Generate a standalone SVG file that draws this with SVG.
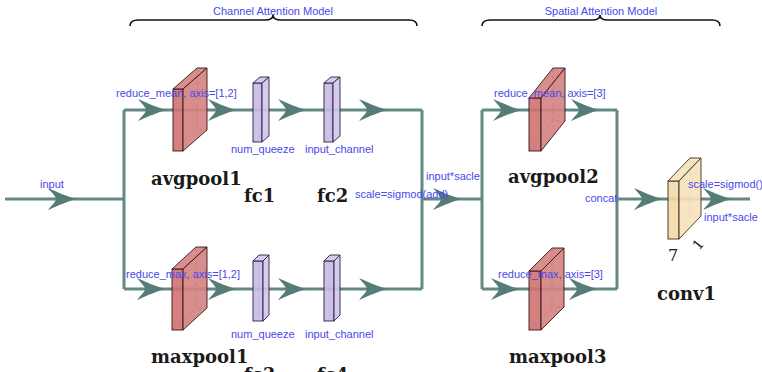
<svg xmlns="http://www.w3.org/2000/svg" xmlns:xlink="http://www.w3.org/1999/xlink" width="762" height="372" viewBox="0 0 762 372">
<style>
.ln{fill:none;stroke:#648985;stroke-width:3}
.ah{fill:#557c77}
.bt{font-family:"Liberation Sans",Arial,sans-serif;font-size:11px;fill:#4848ec}
.st{font-family:"DejaVu Serif","Liberation Serif",serif;font-weight:bold;font-size:18px;fill:#1a1a1a}
.br{fill:none;stroke:#111;stroke-width:1.6}
.pool .f{fill:#cd7272;fill-opacity:0.9;stroke:#3a1515;stroke-width:0.9}
.pool .s{fill:#d58282;fill-opacity:0.9;stroke:#3a1515;stroke-width:0.9}
.pool .d{stroke:#5a2020;stroke-width:0.8;stroke-dasharray:4 3;fill:none}
.fc .f{fill:#c9bbe6;fill-opacity:0.9;stroke:#2a2040;stroke-width:0.9}
.fc .s{fill:#d3c7ec;fill-opacity:0.9;stroke:#2a2040;stroke-width:0.9}
.fc .d{stroke:#4a4060;stroke-width:0.8;stroke-dasharray:4 3;fill:none}
.cv .f{fill:#f2d9a8;fill-opacity:0.9;stroke:#3a3020;stroke-width:0.9}
.cv .s{fill:#f6e2bb;fill-opacity:0.9;stroke:#3a3020;stroke-width:0.9}
.cv .d{stroke:#6a5a3a;stroke-width:0.8;stroke-dasharray:4 3;fill:none}
</style>
<defs>
<path id="ah" d="M0,0 C-8,-2 -18,-6 -29,-11 C-23,-4 -21,-2 -21,0 C-21,2 -23,4 -29,11 C-18,6 -8,2 0,0 Z"/>
</defs>

<g id="braces">
<path class="br" d="M130,26 Q130,20 138,20 L265,20 Q273,20 273,15 Q273,20 281,20 L409,20 Q417,20 417,26"/>
<text class="bt" x="273" y="15" text-anchor="middle">Channel Attention Model</text>
<path class="br" d="M482,26 Q482,20 490,20 L592,20 Q600,20 600,15 Q600,20 608,20 L712,20 Q720,20 720,26"/>
<text class="bt" x="601" y="15" text-anchor="middle">Spatial Attention Model</text>
</g>

<g id="connectors">
<path class="ln" d="M5,199 H124 M124,110 V289 M124,110 H422 M124,289 H422 M422,110 V289 M422,199 H482 M482,110 V289 M482,110 H617 M482,289 H617 M617,110 V289 M617,199 H750"/>
<g class="ah">
<use xlink:href="#ah" href="#ah" x="77" y="199"/>
<use xlink:href="#ah" href="#ah" x="167" y="110"/>
<use xlink:href="#ah" href="#ah" x="237" y="110"/>
<use xlink:href="#ah" href="#ah" x="307" y="110"/>
<use xlink:href="#ah" href="#ah" x="388" y="110"/>
<use xlink:href="#ah" href="#ah" x="166" y="289"/>
<use xlink:href="#ah" href="#ah" x="237" y="289"/>
<use xlink:href="#ah" href="#ah" x="307" y="289"/>
<use xlink:href="#ah" href="#ah" x="388" y="289"/>
<use xlink:href="#ah" href="#ah" x="462" y="199"/>
<use xlink:href="#ah" href="#ah" x="522" y="110"/>
<use xlink:href="#ah" href="#ah" x="600" y="110"/>
<use xlink:href="#ah" href="#ah" x="520" y="289"/>
<use xlink:href="#ah" href="#ah" x="598" y="289"/>
<use xlink:href="#ah" href="#ah" x="663" y="199"/>
<use xlink:href="#ah" href="#ah" x="732" y="199"/>
</g>
</g>

<g id="avgpool1" class="pool">
<path class="d" d="M197,68 V130 H207 M173,151 L197,130"/>
<rect class="f" x="173" y="89" width="10" height="62"/>
<polygon class="s" points="173,89 197,68 207,68 183,89"/>
<polygon class="s" points="183,89 207,68 207,130 183,151"/>
<text class="st" x="151" y="185">avgpool1</text>
</g>

<g id="fc1" class="fc">
<path class="d" d="M260,77 V136 H269 M253,142 L260,136"/>
<rect class="f" x="253" y="83" width="9" height="59"/>
<polygon class="s" points="253,83 260,77 269,77 262,83"/>
<polygon class="s" points="262,83 269,77 269,136 262,142"/>
<text class="bt" x="231" y="153">num_queeze</text>
<text class="st" x="244" y="202">fc1</text>
</g>

<g id="fc2" class="fc">
<path class="d" d="M331,77 V136 H340 M324,142 L331,136"/>
<rect class="f" x="324" y="83" width="9" height="59"/>
<polygon class="s" points="324,83 331,77 340,77 333,83"/>
<polygon class="s" points="333,83 340,77 340,136 333,142"/>
<text class="bt" x="305" y="153">input_channel</text>
<text class="st" x="317" y="202">fc2</text>
</g>

<g id="maxpool1" class="pool">
<path class="d" d="M196,247 V308 H207 M172,330 L196,308"/>
<rect class="f" x="172" y="269" width="11" height="61"/>
<polygon class="s" points="172,269 196,247 207,247 183,269"/>
<polygon class="s" points="183,269 207,247 207,308 183,330"/>
<text class="st" x="151" y="363">maxpool1</text>
</g>

<g id="fc3" class="fc">
<path class="d" d="M259,255 V315 H269 M253,321 L259,315"/>
<rect class="f" x="253" y="261" width="10" height="60"/>
<polygon class="s" points="253,261 259,255 269,255 263,261"/>
<polygon class="s" points="263,261 269,255 269,315 263,321"/>
<text class="bt" x="231" y="338">num_queeze</text>
<text class="st" x="244" y="381">fc3</text>
</g>

<g id="fc4" class="fc">
<path class="d" d="M330,255 V315 H340 M324,321 L330,315"/>
<rect class="f" x="324" y="261" width="10" height="60"/>
<polygon class="s" points="324,261 330,255 340,255 334,261"/>
<polygon class="s" points="334,261 340,255 340,315 334,321"/>
<text class="bt" x="305" y="338">input_channel</text>
<text class="st" x="317" y="381">fc4</text>
</g>

<g id="avgpool2" class="pool">
<path class="d" d="M553,68 V121 H565 M529,151 L553,121"/>
<rect class="f" x="529" y="98" width="12" height="53"/>
<polygon class="s" points="529,98 553,68 565,68 541,98"/>
<polygon class="s" points="541,98 565,68 565,121 541,151"/>
<text class="st" x="508" y="183">avgpool2</text>
</g>

<g id="maxpool3" class="pool">
<path class="d" d="M552,248 V307 H564 M529,330 L552,307"/>
<rect class="f" x="529" y="271" width="12" height="59"/>
<polygon class="s" points="529,271 552,248 564,248 541,271"/>
<polygon class="s" points="541,271 564,248 564,307 541,330"/>
<text class="st" x="509" y="363">maxpool3</text>
</g>

<g id="conv1" class="cv">
<path class="d" d="M690,158 V216 H701 M668,239 L690,216"/>
<rect class="f" x="668" y="181" width="11" height="58"/>
<polygon class="s" points="668,181 690,158 701,158 679,181"/>
<polygon class="s" points="679,181 701,158 701,216 679,239"/>
<text x="668" y="261" style="font-family:'DejaVu Serif','Liberation Serif',serif;font-size:16px;fill:#1a1a1a">7</text>
<text x="0" y="0" transform="translate(699,251) rotate(-50)" style="font-family:'DejaVu Serif','Liberation Serif',serif;font-size:14px;fill:#1a1a1a">1</text>
<text class="st" x="657" y="300">conv1</text>
</g>

<g id="connector-labels">
<text class="bt" x="40" y="188">input</text>
<text class="bt" x="116" y="97">reduce_mean, axis=[1,2]</text>
<text class="bt" x="126" y="278">reduce_max, axis=[1,2]</text>
<text class="bt" x="355" y="198">scale=sigmod(add)</text>
<text class="bt" x="426" y="180">input*sacle</text>
<text class="bt" x="494" y="97">reduce_mean, axis=[3]</text>
<text class="bt" x="498" y="278">reduce_max, axis=[3]</text>
<text class="bt" x="585" y="202">concat</text>
<text class="bt" x="688" y="188">scale=sigmod()</text>
<text class="bt" x="704" y="221">input*sacle</text>
</g>
</svg>
